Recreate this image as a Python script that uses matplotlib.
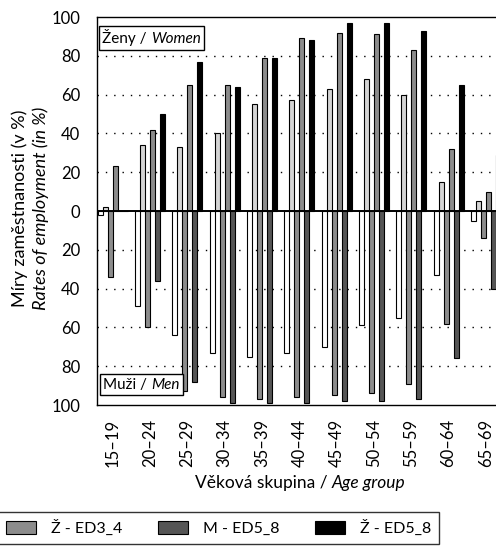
import numpy as np
import matplotlib
matplotlib.use("Agg")
import matplotlib.pyplot as plt
from matplotlib.offsetbox import TextArea, HPacker, AnchoredOffsetbox

plt.rcParams['font.family'] = ['Lato', 'DejaVu Sans']

age_groups = ["15–19", "20–24", "25–29", "30–34", "35–39", "40–44",
              "45–49", "50–54", "55–59", "60–64", "65–69"]
women_ed02 = [2, 34, 33, 40, 55, 57, 63, 68, 60, 15, 5]
women_ed34 = [23, 42, 65, 65, 79, 89, 92, 91, 83, 32, 10]
women_ed58 = [0, 50, 77, 64, 79, 88, 97, 97, 93, 65, 29]
men_ed02 = [2, 49, 64, 73, 75, 73, 70, 59, 55, 33, 5]
men_ed34 = [34, 60, 93, 96, 97, 96, 95, 94, 89, 58, 14]
men_ed58 = [0, 36, 88, 99, 99, 99, 98, 98, 97, 76, 40]
yticks = [-100, -80, -60, -40, -20, 0, 20, 40, 60, 80, 100]

W, H = 496, 546
fig = plt.figure(figsize=(W / 100, H / 100), dpi=100)
ax = fig.add_axes([97 / W, 1 - 405 / H, 1 - 97 / W, (405 - 17) / H])

x = np.arange(len(age_groups))
bw = 0.134
series = [
    (-np.array(men_ed02), "white", "M - ED0_2"),
    (np.array(women_ed02), "#d4d4d4", "Ž - ED0_2"),
    (-np.array(men_ed34), "#8c8c8c", "M - ED3_4"),
    (np.array(women_ed34), "#8c8c8c", "Ž - ED3_4"),
    (-np.array(men_ed58), "#555555", "M - ED5_8"),
    (np.array(women_ed58), "#000000", "Ž - ED5_8"),
]
handles = {}
for i, (vals, col, lab) in enumerate(series):
    off = (i - 2.5) * bw
    b = ax.bar(x + off, vals, width=bw, color=col, edgecolor="black",
               linewidth=0.8, label=lab, zorder=3)
    handles[lab] = b

ax.set_xlim(-0.42, 10.27)
ax.set_ylim(-100, 100)
ax.set_yticks(yticks)
ax.set_yticklabels([str(abs(v)) for v in yticks])
ax.set_xticks(x)
ax.set_xticklabels(age_groups, rotation=90)
ax.tick_params(axis="both", length=0)
ax.tick_params(axis="y", pad=12, labelsize=12)
ax.tick_params(axis="x", pad=10, labelsize=12)

for v in yticks:
    if v not in (0, 100, -100):
        ax.axhline(v, color="black", linestyle=(0, (1, 5)), linewidth=1.0, zorder=1)
ax.axhline(0, color="black", linewidth=1.4, zorder=4)

ax.spines["right"].set_visible(False)
for s in ("left", "top", "bottom"):
    ax.spines[s].set_linewidth(1.0)

# panel labels
def label_box(normal, italic, loc, anchor):
    t1 = TextArea(normal, textprops=dict(fontsize=11))
    t2 = TextArea(italic, textprops=dict(fontsize=11, fontstyle="italic"))
    pk = HPacker(children=[t1, t2], align="baseline", pad=0, sep=3)
    ab = AnchoredOffsetbox(loc=loc, child=pk, pad=0.25, borderpad=0,
                           frameon=True, bbox_to_anchor=anchor,
                           bbox_transform=ax.transAxes)
    ab.patch.set_edgecolor("black")
    ab.patch.set_linewidth(1.0)
    ab.patch.set_boxstyle("square", pad=0)
    ab.set_zorder(6)
    ax.add_artist(ab)

label_box("Ženy /", "Women", "upper left", (2 / 399, 1 - 9 / 388))
label_box("Muži /", "Men", "lower left", (3 / 399, 10 / 388))

# y label (two lines)
fig.text(20 / W, 1 - 208 / H, "Míry zaměstnanosti (v %)", rotation=90,
         ha="center", va="center", fontsize=13)
fig.text(41 / W, 1 - 208 / H, "Rates of employment (in %)", rotation=90,
         ha="center", va="center", fontsize=13, fontstyle="italic")

# x label
t1 = TextArea("Věková skupina /", textprops=dict(fontsize=12.5))
t2 = TextArea("Age group", textprops=dict(fontsize=12.5, fontstyle="italic"))
pk = HPacker(children=[t1, t2], align="baseline", pad=0, sep=3)
xl = AnchoredOffsetbox(loc="center", child=pk, pad=0, borderpad=0, frameon=False,
                       bbox_to_anchor=(300 / W, 1 - 483 / H),
                       bbox_transform=fig.transFigure)
fig.add_artist(xl)

# legend
labs = ["Ž - ED3_4", "M - ED5_8", "Ž - ED5_8"]
leg = fig.legend([handles[l] for l in labs], labs, ncol=3, loc="upper left",
                 bbox_to_anchor=(-2 / W, 1 - 512 / H, 441 / W, 0.0001),
                 mode="expand", borderaxespad=0,
                 frameon=True, fancybox=False, fontsize=11.5,
                 handlelength=1.9, handleheight=0.85, handletextpad=0.9,
                 columnspacing=1.9, borderpad=0.5)
leg.get_frame().set_edgecolor("black")
leg.get_frame().set_linewidth(1.0)

fig.savefig("out.png", dpi=100)
